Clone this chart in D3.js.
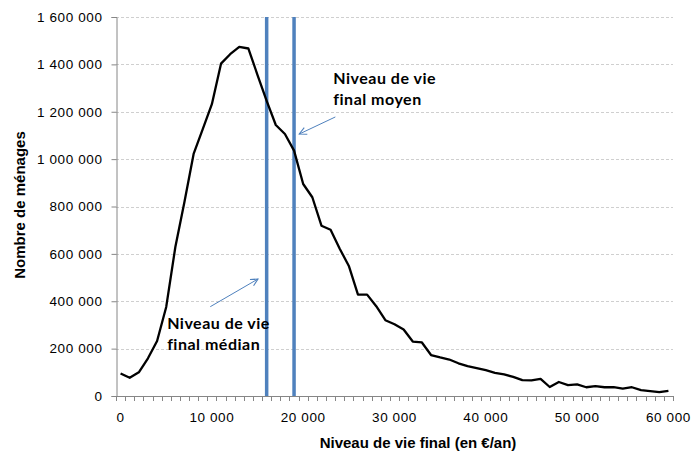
<!DOCTYPE html>
<html><head><meta charset="utf-8">
<script src="https://cdn.jsdelivr.net/npm/d3@7"></script>
<style>
body{margin:0;background:#fff;}
svg{display:block;}
</style></head>
<body>
<svg id="chart" width="691" height="452"></svg>
<script>
// ---- data ----
const categories = d3.range(0, 60001, 1000);
const households = [
  95000, 77000, 100000, 159000, 232000, 376000, 629000, 820000, 1022000, 1127000,
  1232000, 1403000, 1443000, 1474000, 1467000, 1355000, 1246000, 1144000, 1106000, 1036000,
  895000, 839000, 719000, 702000, 622000, 549000, 428000, 428000, 379000, 320000,
  303000, 281000, 230000, 226000, 173000, 163000, 154000, 138000, 126000, 118000,
  109000, 98000, 91000, 81000, 67000, 66000, 72000, 38000, 59000, 46000,
  49000, 37000, 42000, 37000, 37000, 31000, 37000, 25000, 21000, 16000, 22000
];
const yTicks = [0, 200000, 400000, 600000, 800000, 1000000, 1200000, 1400000, 1600000];
const xTickLabels = [0, 10000, 20000, 30000, 40000, 50000, 60000];
const medianIncome = 16000;
const meanIncome = 19000;
const annotations = [
  {lines: ["Niveau de vie", "final moyen"], x: 23300, y: 1316000,
   arrowFrom: [23520, 1178000], arrowTo: [19570, 1106000]},
  {lines: ["Niveau de vie", "final médian"], x: 5100, y: 283000,
   arrowFrom: [9825, 377000], arrowTo: [15050, 494000]}
];

// ---- layout ----
const svg = d3.select("#chart");
const mLeft = 116, mRight = 673, mTop = 17, mBottom = 396;
const fmt = v => d3.format(",")(v).replace(/,/g, " ");

const xBand = d3.scaleBand().domain(categories).range([mLeft, mRight]);
const bw = xBand.bandwidth();
const x = d3.scaleLinear()
  .domain([categories[0], categories[categories.length - 1]])
  .range([xBand(categories[0]) + bw / 2, xBand(categories[categories.length - 1]) + bw / 2]);
const y = d3.scaleLinear().domain([0, 1600000]).range([mBottom, mTop]);

// gridlines
svg.append("g").selectAll("line").data(yTicks.filter(d => d > 0)).join("line")
  .attr("x1", mLeft).attr("x2", mRight)
  .attr("y1", d => Math.round(y(d)) + 0.5).attr("y2", d => Math.round(y(d)) + 0.5)
  .attr("stroke", "#cfcfcf").attr("stroke-width", 1).attr("stroke-dasharray", "3,2");

// y axis
const yAxis = d3.axisLeft(y).tickValues(yTicks).tickFormat(fmt).tickSize(5).tickPadding(9);
const gy = svg.append("g").attr("transform", `translate(${mLeft + 0.5},0)`).call(yAxis);
gy.select(".domain").attr("stroke", "#868686");
gy.selectAll(".tick line").attr("stroke", "#868686");
gy.selectAll(".tick text").attr("font-family", "Liberation Sans, Arial, sans-serif")
  .attr("font-size", 13.5).attr("letter-spacing", "0.6px").attr("fill", "#000");

// x axis
const gx = svg.append("g");
gx.append("line").attr("x1", mLeft).attr("x2", mRight)
  .attr("y1", mBottom + 0.5).attr("y2", mBottom + 0.5).attr("stroke", "#868686");
const boundaries = categories.map(c => xBand(c)).concat([mRight]);
gx.selectAll("line.tk").data(boundaries).join("line").attr("class", "tk")
  .attr("x1", d => Math.round(d) + 0.5).attr("x2", d => Math.round(d) + 0.5)
  .attr("y1", mBottom).attr("y2", mBottom + 5).attr("stroke", "#868686");
gx.selectAll("text").data(xTickLabels).join("text")
  .attr("x", d => x(d)).attr("y", 422)
  .attr("text-anchor", "middle")
  .attr("font-family", "Liberation Sans, Arial, sans-serif")
  .attr("font-size", 13.5).attr("letter-spacing", "0.6px")
  .text(fmt);

// axis titles
svg.append("text").attr("x", 418).attr("y", 448).attr("text-anchor", "middle")
  .attr("font-family", "Liberation Sans, Arial, sans-serif").attr("font-weight", "bold")
  .attr("font-size", 15).text("Niveau de vie final (en €/an)");
svg.append("text").attr("transform", "translate(25,205) rotate(-90)").attr("text-anchor", "middle")
  .attr("font-family", "Liberation Sans, Arial, sans-serif").attr("font-weight", "bold")
  .attr("font-size", 15).text("Nombre de ménages");

// median & mean lines
svg.append("g").selectAll("line").data([medianIncome, meanIncome]).join("line")
  .attr("x1", d => x(d)).attr("x2", d => x(d))
  .attr("y1", mTop).attr("y2", mBottom)
  .attr("stroke", "#4F81BD").attr("stroke-width", 3.5);

// curve
const line = d3.line().x((d, i) => x(categories[i])).y(d => y(d));
svg.append("path").datum(households).attr("d", line)
  .attr("fill", "none").attr("stroke", "#000").attr("stroke-width", 2.3)
  .attr("stroke-linejoin", "round");

// arrow marker
svg.append("defs").append("marker").attr("id", "arr")
  .attr("viewBox", "0 0 10 10").attr("refX", 9).attr("refY", 5)
  .attr("markerWidth", 9).attr("markerHeight", 9).attr("orient", "auto")
  .attr("markerUnits", "userSpaceOnUse")
  .append("path").attr("d", "M1,1 L9,5 L1,9").attr("fill", "none")
  .attr("stroke", "#4F81BD").attr("stroke-width", 1.2);

// annotations
annotations.forEach(a => {
  svg.append("line")
    .attr("x1", x(a.arrowFrom[0])).attr("y1", y(a.arrowFrom[1]))
    .attr("x2", x(a.arrowTo[0])).attr("y2", y(a.arrowTo[1]))
    .attr("stroke", "#4F81BD").attr("stroke-width", 1).attr("marker-end", "url(#arr)");
  const t = svg.append("text").attr("font-family", "Lato, Open Sans, sans-serif")
    .attr("font-weight", "bold").attr("font-size", 16).attr("letter-spacing", "0.5px")
    .attr("fill", "#000");
  a.lines.forEach((l, i) => {
    t.append("tspan").attr("x", x(a.x)).attr("y", y(a.y) + i * 21).text(l);
  });
});
</script>
</body></html>
